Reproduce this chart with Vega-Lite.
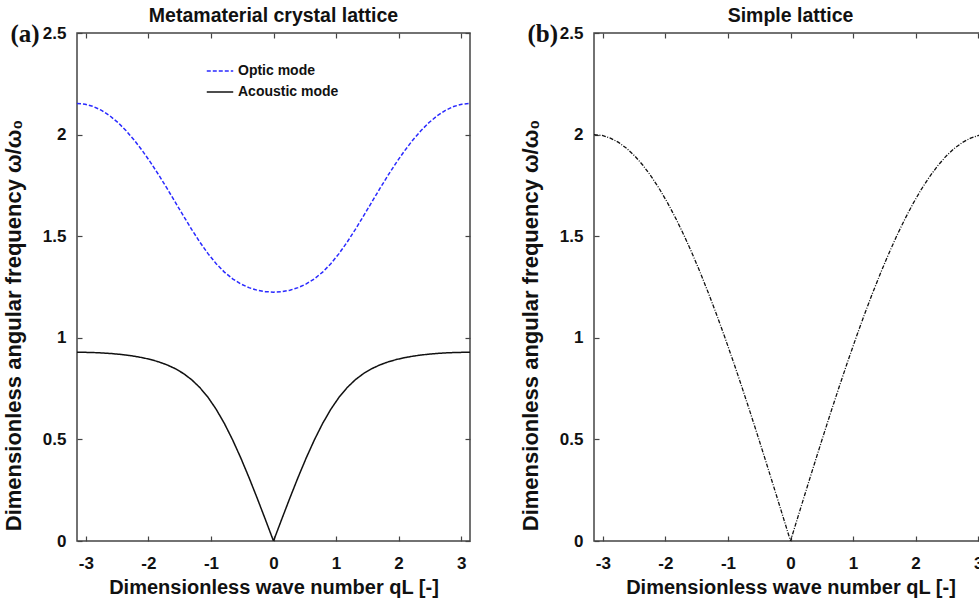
{
  "$schema": "https://vega.github.io/schema/vega-lite/v6.json",
  "background": "white",
  "padding": {"left": 1, "top": 4, "right": 0, "bottom": 0},
  "config": {
    "view": {"stroke": "#444444", "strokeWidth": 1.5},
    "font": "Liberation Sans",
    "axis": {
      "domain": false,
      "grid": false,
      "tickColor": "#444444",
      "tickWidth": 1.2,
      "tickSize": -5,
      "labelFont": "Liberation Sans",
      "labelFontWeight": "bold",
      "labelFontSize": 17,
      "labelColor": "#111111",
      "titleFont": "Liberation Sans",
      "titleFontWeight": "bold",
      "titleFontSize": 20,
      "titleColor": "#111111"
    },
    "title": {"font": "Liberation Sans", "fontSize": 19.5, "fontWeight": "bold", "color": "#111111", "frame": "group", "anchor": "middle"},
    "concat": {"spacing": 46}
  },
  "datasets": {
    "metamaterial": [
      {"q": -3.1416, "mode": "Optic mode", "w": 2.1535},
      {"q": -3.0107, "mode": "Optic mode", "w": 2.1496},
      {"q": -2.8798, "mode": "Optic mode", "w": 2.1382},
      {"q": -2.7489, "mode": "Optic mode", "w": 2.1192},
      {"q": -2.6180, "mode": "Optic mode", "w": 2.0928},
      {"q": -2.4871, "mode": "Optic mode", "w": 2.0594},
      {"q": -2.3562, "mode": "Optic mode", "w": 2.0191},
      {"q": -2.2253, "mode": "Optic mode", "w": 1.9724},
      {"q": -2.0944, "mode": "Optic mode", "w": 1.9199},
      {"q": -1.9635, "mode": "Optic mode", "w": 1.8622},
      {"q": -1.8326, "mode": "Optic mode", "w": 1.8002},
      {"q": -1.7017, "mode": "Optic mode", "w": 1.7349},
      {"q": -1.5708, "mode": "Optic mode", "w": 1.6676},
      {"q": -1.4399, "mode": "Optic mode", "w": 1.5999},
      {"q": -1.3090, "mode": "Optic mode", "w": 1.5337},
      {"q": -1.1781, "mode": "Optic mode", "w": 1.4711},
      {"q": -1.0472, "mode": "Optic mode", "w": 1.4142},
      {"q": -0.9163, "mode": "Optic mode", "w": 1.3647},
      {"q": -0.7854, "mode": "Optic mode", "w": 1.3234},
      {"q": -0.6545, "mode": "Optic mode", "w": 1.2904},
      {"q": -0.5236, "mode": "Optic mode", "w": 1.2651},
      {"q": -0.3927, "mode": "Optic mode", "w": 1.2467},
      {"q": -0.2618, "mode": "Optic mode", "w": 1.2343},
      {"q": -0.1309, "mode": "Optic mode", "w": 1.2271},
      {"q": 0, "mode": "Optic mode", "w": 1.2247},
      {"q": 0.1309, "mode": "Optic mode", "w": 1.2271},
      {"q": 0.2618, "mode": "Optic mode", "w": 1.2343},
      {"q": 0.3927, "mode": "Optic mode", "w": 1.2467},
      {"q": 0.5236, "mode": "Optic mode", "w": 1.2651},
      {"q": 0.6545, "mode": "Optic mode", "w": 1.2904},
      {"q": 0.7854, "mode": "Optic mode", "w": 1.3234},
      {"q": 0.9163, "mode": "Optic mode", "w": 1.3647},
      {"q": 1.0472, "mode": "Optic mode", "w": 1.4142},
      {"q": 1.1781, "mode": "Optic mode", "w": 1.4711},
      {"q": 1.3090, "mode": "Optic mode", "w": 1.5337},
      {"q": 1.4399, "mode": "Optic mode", "w": 1.5999},
      {"q": 1.5708, "mode": "Optic mode", "w": 1.6676},
      {"q": 1.7017, "mode": "Optic mode", "w": 1.7349},
      {"q": 1.8326, "mode": "Optic mode", "w": 1.8002},
      {"q": 1.9635, "mode": "Optic mode", "w": 1.8622},
      {"q": 2.0944, "mode": "Optic mode", "w": 1.9199},
      {"q": 2.2253, "mode": "Optic mode", "w": 1.9724},
      {"q": 2.3562, "mode": "Optic mode", "w": 2.0191},
      {"q": 2.4871, "mode": "Optic mode", "w": 2.0594},
      {"q": 2.6180, "mode": "Optic mode", "w": 2.0928},
      {"q": 2.7489, "mode": "Optic mode", "w": 2.1192},
      {"q": 2.8798, "mode": "Optic mode", "w": 2.1382},
      {"q": 3.0107, "mode": "Optic mode", "w": 2.1496},
      {"q": 3.1416, "mode": "Optic mode", "w": 2.1535},
      {"q": -3.1416, "mode": "Acoustic mode", "w": 0.9287},
      {"q": -3.0107, "mode": "Acoustic mode", "w": 0.9284},
      {"q": -2.8798, "mode": "Acoustic mode", "w": 0.9274},
      {"q": -2.7489, "mode": "Acoustic mode", "w": 0.9256},
      {"q": -2.6180, "mode": "Acoustic mode", "w": 0.9231},
      {"q": -2.4871, "mode": "Acoustic mode", "w": 0.9196},
      {"q": -2.3562, "mode": "Acoustic mode", "w": 0.9151},
      {"q": -2.2253, "mode": "Acoustic mode", "w": 0.9094},
      {"q": -2.0944, "mode": "Acoustic mode", "w": 0.9021},
      {"q": -1.9635, "mode": "Acoustic mode", "w": 0.8930},
      {"q": -1.8326, "mode": "Acoustic mode", "w": 0.8814},
      {"q": -1.7017, "mode": "Acoustic mode", "w": 0.8667},
      {"q": -1.5708, "mode": "Acoustic mode", "w": 0.8481},
      {"q": -1.4399, "mode": "Acoustic mode", "w": 0.8243},
      {"q": -1.3090, "mode": "Acoustic mode", "w": 0.7939},
      {"q": -1.1781, "mode": "Acoustic mode", "w": 0.7553},
      {"q": -1.0472, "mode": "Acoustic mode", "w": 0.7071},
      {"q": -0.9163, "mode": "Acoustic mode", "w": 0.6482},
      {"q": -0.7854, "mode": "Acoustic mode", "w": 0.5784},
      {"q": -0.6545, "mode": "Acoustic mode", "w": 0.4982},
      {"q": -0.5236, "mode": "Acoustic mode", "w": 0.4092},
      {"q": -0.3927, "mode": "Acoustic mode", "w": 0.3130},
      {"q": -0.2618, "mode": "Acoustic mode", "w": 0.2115},
      {"q": -0.1309, "mode": "Acoustic mode", "w": 0.1066},
      {"q": 0, "mode": "Acoustic mode", "w": 0},
      {"q": 0.1309, "mode": "Acoustic mode", "w": 0.1066},
      {"q": 0.2618, "mode": "Acoustic mode", "w": 0.2115},
      {"q": 0.3927, "mode": "Acoustic mode", "w": 0.3130},
      {"q": 0.5236, "mode": "Acoustic mode", "w": 0.4092},
      {"q": 0.6545, "mode": "Acoustic mode", "w": 0.4982},
      {"q": 0.7854, "mode": "Acoustic mode", "w": 0.5784},
      {"q": 0.9163, "mode": "Acoustic mode", "w": 0.6482},
      {"q": 1.0472, "mode": "Acoustic mode", "w": 0.7071},
      {"q": 1.1781, "mode": "Acoustic mode", "w": 0.7553},
      {"q": 1.3090, "mode": "Acoustic mode", "w": 0.7939},
      {"q": 1.4399, "mode": "Acoustic mode", "w": 0.8243},
      {"q": 1.5708, "mode": "Acoustic mode", "w": 0.8481},
      {"q": 1.7017, "mode": "Acoustic mode", "w": 0.8667},
      {"q": 1.8326, "mode": "Acoustic mode", "w": 0.8814},
      {"q": 1.9635, "mode": "Acoustic mode", "w": 0.8930},
      {"q": 2.0944, "mode": "Acoustic mode", "w": 0.9021},
      {"q": 2.2253, "mode": "Acoustic mode", "w": 0.9094},
      {"q": 2.3562, "mode": "Acoustic mode", "w": 0.9151},
      {"q": 2.4871, "mode": "Acoustic mode", "w": 0.9196},
      {"q": 2.6180, "mode": "Acoustic mode", "w": 0.9231},
      {"q": 2.7489, "mode": "Acoustic mode", "w": 0.9256},
      {"q": 2.8798, "mode": "Acoustic mode", "w": 0.9274},
      {"q": 3.0107, "mode": "Acoustic mode", "w": 0.9284},
      {"q": 3.1416, "mode": "Acoustic mode", "w": 0.9287}
    ],
    "simple": [
      {"q": -3.1416, "w": 2.0},
      {"q": -3.0107, "w": 1.9957},
      {"q": -2.8798, "w": 1.9829},
      {"q": -2.7489, "w": 1.9616},
      {"q": -2.6180, "w": 1.9319},
      {"q": -2.4871, "w": 1.8939},
      {"q": -2.3562, "w": 1.8478},
      {"q": -2.2253, "w": 1.7937},
      {"q": -2.0944, "w": 1.7321},
      {"q": -1.9635, "w": 1.6629},
      {"q": -1.8326, "w": 1.5867},
      {"q": -1.7017, "w": 1.5037},
      {"q": -1.5708, "w": 1.4142},
      {"q": -1.4399, "w": 1.3187},
      {"q": -1.3090, "w": 1.2175},
      {"q": -1.1781, "w": 1.1111},
      {"q": -1.0472, "w": 1.0},
      {"q": -0.9163, "w": 0.8846},
      {"q": -0.7854, "w": 0.7654},
      {"q": -0.6545, "w": 0.6429},
      {"q": -0.5236, "w": 0.5176},
      {"q": -0.3927, "w": 0.3902},
      {"q": -0.2618, "w": 0.2611},
      {"q": -0.1309, "w": 0.1308},
      {"q": 0, "w": 0},
      {"q": 0.1309, "w": 0.1308},
      {"q": 0.2618, "w": 0.2611},
      {"q": 0.3927, "w": 0.3902},
      {"q": 0.5236, "w": 0.5176},
      {"q": 0.6545, "w": 0.6429},
      {"q": 0.7854, "w": 0.7654},
      {"q": 0.9163, "w": 0.8846},
      {"q": 1.0472, "w": 1.0},
      {"q": 1.1781, "w": 1.1111},
      {"q": 1.3090, "w": 1.2175},
      {"q": 1.4399, "w": 1.3187},
      {"q": 1.5708, "w": 1.4142},
      {"q": 1.7017, "w": 1.5037},
      {"q": 1.8326, "w": 1.5867},
      {"q": 1.9635, "w": 1.6629},
      {"q": 2.0944, "w": 1.7321},
      {"q": 2.2253, "w": 1.7937},
      {"q": 2.3562, "w": 1.8478},
      {"q": 2.4871, "w": 1.8939},
      {"q": 2.6180, "w": 1.9319},
      {"q": 2.7489, "w": 1.9616},
      {"q": 2.8798, "w": 1.9829},
      {"q": 3.0107, "w": 1.9957},
      {"q": 3.1416, "w": 2.0}
    ]
  },
  "hconcat": [
    {
      "width": 393,
      "height": 508,
      "title": {"text": "Metamaterial crystal lattice", "offset": -5},
      "data": {"name": "metamaterial"},
      "resolve": {"axis": {"x": "independent", "y": "independent"}},
      "layer": [
        {
          "mark": {"type": "line", "strokeWidth": 1.5, "clip": true},
          "encoding": {
            "x": {
              "field": "q", "type": "quantitative",
              "scale": {"domain": [-3.1416, 3.1416], "nice": false, "zero": false},
              "axis": {"orient": "bottom", "values": [-3, -2, -1, 0, 1, 2, 3], "labelExpr": "'' + datum.value", "labelPadding": 19, "titlePadding": 6, "title": "Dimensionless wave number qL [-]"}
            },
            "y": {
              "field": "w", "type": "quantitative",
              "scale": {"domain": [0, 2.5], "nice": false},
              "axis": {"orient": "left", "values": [0, 0.5, 1, 1.5, 2, 2.5], "labelExpr": "'' + datum.value", "labelPadding": 16, "title": "Dimensionless angular frequency  ω/ω₀", "titleFontSize": 22, "titleX": -52, "titleY": 292}
            },
            "color": {
              "field": "mode", "type": "nominal",
              "scale": {"domain": ["Optic mode", "Acoustic mode"], "range": ["#2a2aff", "#111111"]},
              "legend": {"title": null, "orient": "none", "legendX": 129, "legendY": 24, "symbolType": "stroke", "symbolSize": 700, "symbolStrokeWidth": 1.5, "labelFont": "Liberation Sans", "labelFontSize": 14, "labelFontWeight": "bold", "labelColor": "#111111", "rowPadding": -4, "labelOffset": 4}
            },
            "strokeDash": {
              "field": "mode", "type": "nominal",
              "scale": {"domain": ["Optic mode", "Acoustic mode"], "range": [[4, 2], [1, 0]]},
              "legend": {"title": null, "orient": "none", "legendX": 129, "legendY": 24, "symbolType": "stroke", "symbolSize": 700, "symbolStrokeWidth": 1.5, "labelFont": "Liberation Sans", "labelFontSize": 14, "labelFontWeight": "bold", "labelColor": "#111111", "rowPadding": -4, "labelOffset": 4}
            }
          }
        },
        {
          "mark": {"type": "line", "opacity": 0},
          "encoding": {
            "x": {"field": "q", "type": "quantitative", "axis": {"orient": "top", "values": [-3, -2, -1, 0, 1, 2, 3], "labels": false, "title": "(a)", "titleFont": "Liberation Serif", "titleFontSize": 25, "titleAngle": 0, "titleAlign": "left", "titleBaseline": "alphabetic", "titleX": -67, "titleY": 8}},
            "y": {"field": "w", "type": "quantitative", "axis": {"orient": "right", "values": [0, 0.5, 1, 1.5, 2, 2.5], "labels": false, "title": null}}
          }
        }
      ]
    },
    {
      "width": 393,
      "height": 508,
      "title": {"text": "Simple lattice", "offset": -5},
      "data": {"name": "simple"},
      "resolve": {"axis": {"x": "independent", "y": "independent"}},
      "layer": [
        {
          "mark": {"type": "line", "strokeWidth": 1.3, "color": "#111111", "strokeDash": [4, 1.5, 1, 1.5], "clip": true},
          "encoding": {
            "x": {
              "field": "q", "type": "quantitative",
              "scale": {"domain": [-3.1416, 3.1416], "nice": false, "zero": false},
              "axis": {"orient": "bottom", "values": [-3, -2, -1, 0, 1, 2, 3], "labelExpr": "'' + datum.value", "labelPadding": 19, "titlePadding": 6, "title": "Dimensionless wave number qL [-]"}
            },
            "y": {
              "field": "w", "type": "quantitative",
              "scale": {"domain": [0, 2.5], "nice": false},
              "axis": {"orient": "left", "values": [0, 0.5, 1, 1.5, 2, 2.5], "labelExpr": "'' + datum.value", "labelPadding": 16, "title": "Dimensionless angular frequency  ω/ω₀", "titleFontSize": 22, "titleX": -52, "titleY": 292}
            }
          }
        },
        {
          "mark": {"type": "line", "opacity": 0},
          "encoding": {
            "x": {"field": "q", "type": "quantitative", "axis": {"orient": "top", "values": [-3, -2, -1, 0, 1, 2, 3], "labels": false, "title": "(b)", "titleFont": "Liberation Serif", "titleFontSize": 25, "titleAngle": 0, "titleAlign": "left", "titleBaseline": "alphabetic", "titleX": -67, "titleY": 8}},
            "y": {"field": "w", "type": "quantitative", "axis": {"orient": "right", "values": [0, 0.5, 1, 1.5, 2, 2.5], "labels": false, "title": null}}
          }
        }
      ]
    }
  ]
}
